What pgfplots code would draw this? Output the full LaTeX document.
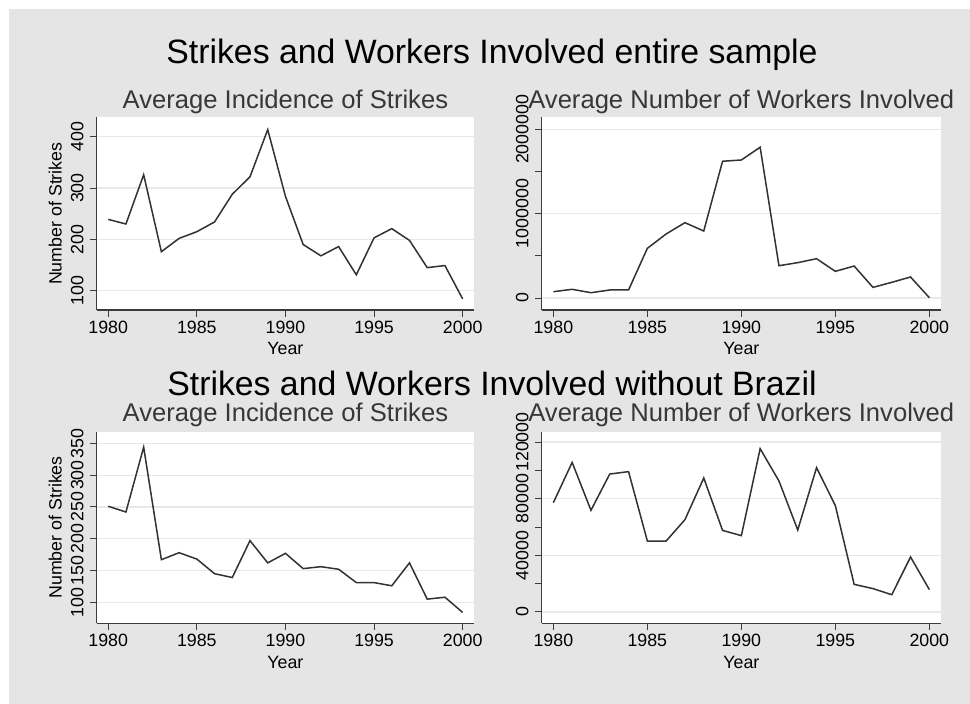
\documentclass[border=0pt]{standalone}
\usepackage{fontspec}
\setmainfont{Liberation Sans}
\usepackage{pgfplots}
\pgfplotsset{compat=1.18}

\definecolor{bggray}{RGB}{229,229,229}
\definecolor{gridgray}{RGB}{232,232,232}
\definecolor{axisgray}{RGB}{60,60,60}
\definecolor{linegray}{RGB}{50,50,50}
\definecolor{subgray}{RGB}{55,55,55}

\newcommand{\tickfont}{\fontsize{17.8}{20}\selectfont}

\pgfplotsset{
  panel/.style={
    scale only axis,
    width=377.3pt, height=192.7pt,
    axis background/.style={fill=white},
    axis x line*=bottom, axis y line*=left,
    axis line style={draw=axisgray, line width=1.2pt, -},
    tick align=outside,
    major tick length=6.7pt, minor tick length=6.7pt,
    tick style={draw=axisgray, line width=1pt},
    ymajorgrids,
    major grid style={draw=gridgray, line width=1.2pt},
    scaled x ticks=false, scaled y ticks=false,
    xtick={1980,1985,1990,1995,2000},
    xticklabels={1980,1985,1990,1995,2000},
    ticklabel style={font=\tickfont, text=black},
    xticklabel style={yshift=-1pt},
    yticklabel style={xshift=-3pt, rotate=90, anchor=south},
    every axis x label/.style={at={(axis description cs:0.5,0)}, anchor=base, yshift=-45pt, font=\tickfont},
    every axis y label/.style={at={(axis description cs:0,0.5)}, xshift=-35pt, rotate=90, anchor=base, font=\tickfont},
    xlabel={Year},
    clip=false,
  },
  series/.style={draw=linegray, line width=1.5pt, mark=none},
}

\begin{document}
\begin{tikzpicture}[x=1pt,y=1pt]
\path[use as bounding box] (0,0) rectangle (970,704);
\fill[white] (0,0) rectangle (970,704);
\fill[bggray] (9,0) rectangle (970,695);

\node[anchor=base, font=\fontsize{33.8}{40}\selectfont] at (492,640.6) {Strikes and Workers Involved entire sample};
\node[anchor=base, font=\fontsize{33.8}{40}\selectfont] at (492,308) {Strikes and Workers Involved without Brazil};

% top left
\begin{axis}[panel, at={(96.7pt,394pt)}, anchor=south west,
  xmin=1979.35, xmax=2000.64, ymin=62.4, ymax=438,
  ytick={100,200,300,400}, yticklabels={100,200,300,400},
  ylabel={Number of Strikes}]
\addplot[series] coordinates {
(1980,239) (1981,230) (1982,326) (1983,176) (1984,202) (1985,215) (1986,234)
(1987,288) (1988,322) (1989,414) (1990,284) (1991,190) (1992,168) (1993,186)
(1994,131) (1995,203) (1996,221) (1997,198) (1998,145) (1999,149) (2000,84)
};
\end{axis}
\node[anchor=base, text=subgray, font=\fontsize{25.6}{30}\selectfont] at (285.4,595.7) {Average Incidence of Strikes};

% top right
\begin{axis}[panel, width=399.3pt, at={(541.7pt,394pt)}, anchor=south west,
  xmin=1979.38, xmax=2000.62, ymin=-142000, ymax=2142000,
  ytick={0,1000000,2000000}, yticklabels={0,1000000,2000000},
  minor ytick={500000,1500000}]
\addplot[series] coordinates {
(1980,75000) (1981,103000) (1982,63000) (1983,95000) (1984,95000) (1985,589000)
(1986,759000) (1987,893000) (1988,794000) (1989,1621000) (1990,1636000)
(1991,1787000) (1992,383000) (1993,419000) (1994,466000) (1995,316000)
(1996,379000) (1997,126000) (1998,186000) (1999,249000) (2000,4000)
};
\end{axis}
\node[anchor=base, text=subgray, font=\fontsize{25.6}{30}\selectfont] at (741.3,595.7) {Average Number of Workers Involved};

% bottom left
\begin{axis}[panel, height=191.6pt, at={(96.7pt,80.7pt)}, anchor=south west,
  xmin=1979.35, xmax=2000.64, ymin=67, ymax=368.3,
  ytick={100,150,200,250,300,350}, yticklabels={100,150,200,250,300,350},
  ylabel={Number of Strikes}]
\addplot[series] coordinates {
(1980,251) (1981,242) (1982,344) (1983,167) (1984,178) (1985,168) (1986,145)
(1987,139) (1988,197) (1989,162) (1990,177) (1991,153) (1992,156) (1993,152)
(1994,131) (1995,131) (1996,126) (1997,162) (1998,105) (1999,108) (2000,84)
};
\end{axis}
\node[anchor=base, text=subgray, font=\fontsize{25.6}{30}\selectfont] at (285.4,282.3) {Average Incidence of Strikes};

% bottom right
\begin{axis}[panel, width=399.3pt, height=191.6pt, at={(541.7pt,80.7pt)}, anchor=south west,
  xmin=1979.38, xmax=2000.62, ymin=-8000, ymax=127300,
  ytick={0,40000,80000,120000}, yticklabels={0,40000,80000,120000},
  minor ytick={20000,60000,100000}]
\addplot[series] coordinates {
(1980,77200) (1981,105600) (1982,71800) (1983,97400) (1984,99100) (1985,50100)
(1986,50100) (1987,65200) (1988,94600) (1989,57600) (1990,53900) (1991,115300)
(1992,92500) (1993,57900) (1994,101900) (1995,75100) (1996,19500) (1997,16500)
(1998,12200) (1999,38800) (2000,15800)
};
\end{axis}
\node[anchor=base, text=subgray, font=\fontsize{25.6}{30}\selectfont] at (741.3,282.3) {Average Number of Workers Involved};
\end{tikzpicture}
\end{document}
